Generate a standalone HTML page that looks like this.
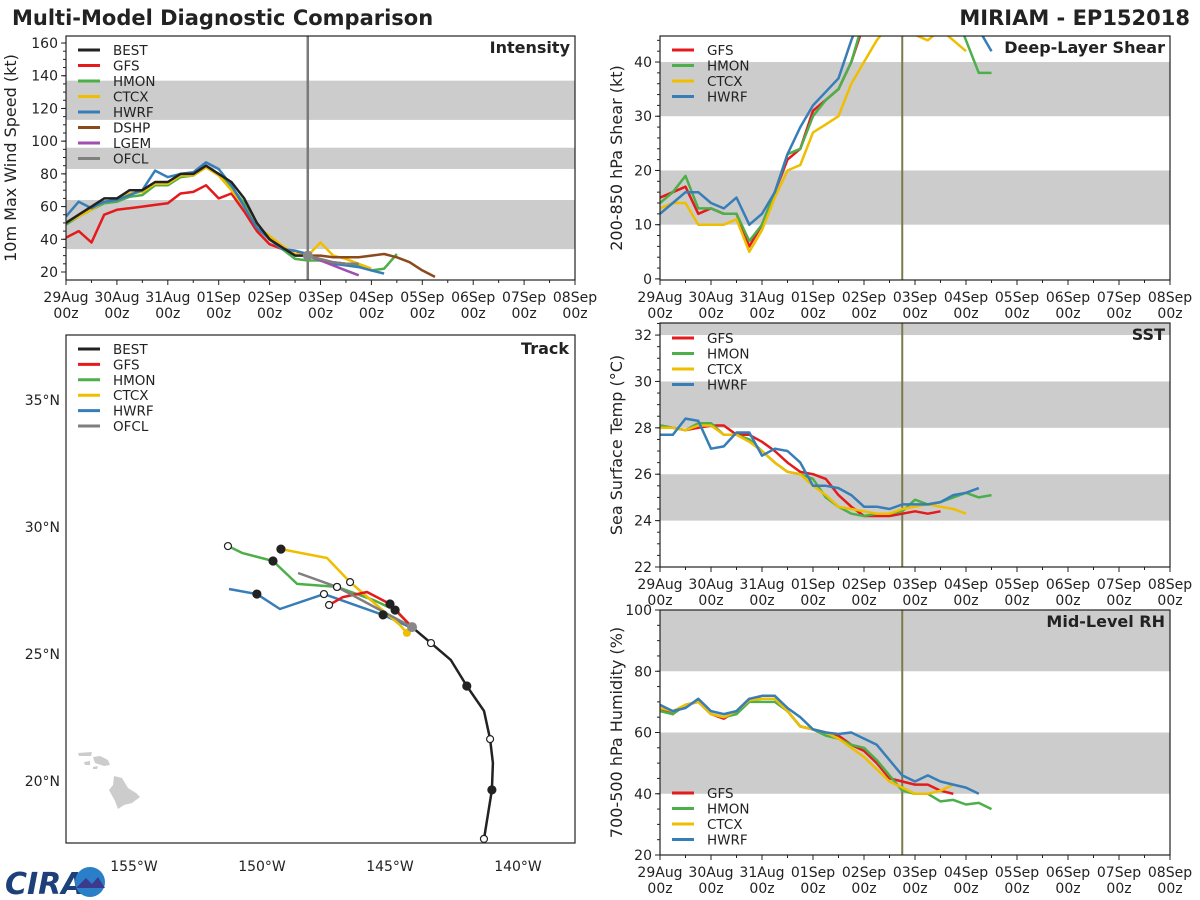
<!DOCTYPE html>
<html><head><meta charset="utf-8">
<style>
body{margin:0;background:#fff;}
svg{display:block;font-family:"DejaVu Sans","Liberation Sans",sans-serif;}
</style></head>
<body>
<svg id="fig" width="1200" height="900" viewBox="0 0 1200 900" xmlns="http://www.w3.org/2000/svg">
<text x="12" y="25" font-size="21" font-weight="bold" fill="#222">Multi-Model Diagnostic Comparison</text>
<text x="1190" y="25" font-size="21" font-weight="bold" fill="#222" text-anchor="end">MIRIAM - EP152018</text>
<g>
<text x="5" y="894" font-size="30" font-weight="bold" fill="#1d3f7a" font-style="italic">CIRA</text>
<circle cx="90" cy="882" r="15" fill="#2a7fc8"/>
<path d="M76 888 L86 878 L92 884 L98 877 L105 888 Z" fill="#3b3a8c"/>
</g>
</svg>
<script>
const NS='http://www.w3.org/2000/svg';
const svg=document.getElementById('fig');
function mk(tag,attrs,parent){const e=document.createElementNS(NS,tag);for(const k in attrs)e.setAttribute(k,attrs[k]);(parent||svg).appendChild(e);return e;}
const COL={BEST:'#222222',GFS:'#e41a1c',HMON:'#4daf4a',CTCX:'#f0be00',HWRF:'#377eb8',DSHP:'#8c4a1c',LGEM:'#9e4fb0',OFCL:'#7f7f7f'};
const dayLabels=['29Aug','30Aug','31Aug','01Sep','02Sep','03Sep','04Sep','05Sep','06Sep','07Sep','08Sep'];
const analysisDay=4.75;

// ---- Intensity data (kt, 6-hourly from start day) ----
const intBestStart=0, intBest=[50,55,60,65,65,70,70,75,75,80,80,85,80,75,65,50,40,35,30,30];
const intGfsStart=0, intGfs=[41,45,38,55,58,59,60,61,62,68,69,73,65,68,57,45,37,34,33,30,27,26,25];
const intHmonStart=0, intHmon=[49,54,58,62,63,66,67,73,73,78,79,84,80,72,62,48,40,34,28,27,27,25,25,24,21,22,31];
const intCtcxStart=0, intCtcx=[50,54,58,63,64,68,69,74,74,79,79,84,79,70,60,48,42,36,31,30,38,30,28,25,22];
const intHwrfStart=0, intHwrf=[54,63,59,63,64,67,70,82,78,80,81,87,83,73,60,47,40,34,33,31,27,25,24,23,21,19];
const intDshpStart=4.75, intDshp=[30,30,29,29,29,30,31,29,26,21,17];
const intLgemStart=4.75, intLgem=[30,27,24,21,18];
const intOfclStart=4.75, intOfcl=[30,28,26,25,25];
// ---- Shear (kt) ----
const shGfs=[15,16,17,12,13,12,12,6,10,16,22,24,31,33,35,40,47,50];
const shHmon=[14,16,19,13,13,12,12,7,10,16,23,24,30,33,35,40,48,52,52,52,52,52,52,50,44,38,38];
const shCtcx=[13,14,14,10,10,10,11,5,9,15,20,21,27,28.5,30,36,40,44,47,45,45,44,46,44,42];
const shHwrf=[12,14,16,16,14,13,15,10,12,16,23,28,32,34.5,37,44,50,52,52,52,52,50,49,50,48,46,42];
// ---- SST (C) ----
const sstGfs=[28.1,28.0,27.9,28.0,28.1,28.1,27.7,27.7,27.4,27.0,26.5,26.1,26.0,25.8,25.1,24.6,24.2,24.2,24.2,24.3,24.4,24.3,24.4];
const sstHmon=[28.1,28.0,27.9,28.2,28.2,27.7,27.7,27.5,27.0,26.5,26.1,26.0,25.8,25.0,24.6,24.3,24.2,24.3,24.3,24.4,24.9,24.7,24.8,25.0,25.2,25.0,25.1];
const sstCtcx=[28.0,28.0,27.9,28.1,28.1,27.7,27.7,27.4,27.0,26.5,26.1,26.0,25.5,25.1,24.6,24.5,24.4,24.3,24.3,24.5,24.6,24.7,24.6,24.5,24.3];
const sstHwrf=[27.7,27.7,28.4,28.3,27.1,27.2,27.8,27.8,26.8,27.1,27.0,26.5,25.5,25.5,25.4,25.1,24.6,24.6,24.5,24.7,24.7,24.7,24.8,25.1,25.2,25.4];
// ---- RH (%) ----
const rhGfs=[68,66,69,70,66,64.5,67,71,71,71,67,62,61,60,59,56,54,50,45,44,43,43,41,40];
const rhHmon=[67,66,69,70,66,65,66,70,70,70,67,62,61,59,58,56,55,51,46,41,40,40,37.5,38,36.5,37,35];
const rhCtcx=[68,67,69,70,66,65,67,70.5,71,71,67,62,61,60,58,55,52,48,44,42,40,40,41,43];
const rhHwrf=[69,67,68,71,67,66,67,71,72,72,68,65,61,60,59.5,60,58,56,51,46,44,46,44,43,42,40];
// ---- Track (lon, lat) ----
const trBest=[[-141.33,17.72],[-141.02,19.65],[-140.98,20.71],[-141.09,21.65],[-141.33,22.76],[-142.0,23.74],[-142.62,24.76],[-143.4,25.43],[-144.14,26.06]];
const trGfs=[[-144.14,26.06],[-145.0,26.97],[-145.9,27.44],[-146.84,27.24],[-147.38,26.93]];
const trHmon=[[-144.14,26.06],[-144.8,26.73],[-145.66,27.13],[-147.07,27.64],[-148.63,27.76],[-149.57,28.66],[-150.78,28.98],[-151.33,29.25]];
const trCtcx=[[-144.34,25.83],[-144.61,26.14],[-145.39,26.81],[-146.56,27.83],[-147.46,28.78],[-149.26,29.13]];
const trHwrf=[[-144.22,26.06],[-145.27,26.54],[-147.58,27.36],[-149.3,26.77],[-150.2,27.36],[-151.29,27.56]];
const trOfcl=[[-144.14,26.06],[-147.07,27.64],[-148.59,28.19]];

function timePanel(o){
  const g=mk('g',{});
  
  
  const L=o.x0,R=o.x1,T=o.y0,B=o.y1;
  const X=d=>L+(R-L)*d/10;
  const Y=v=>B-(B-T)*(v-o.vmin)/(o.vmax-o.vmin);
  const cid='clip-'+o.name;
  const cp=mk('clipPath',{id:cid},g);mk('rect',{x:L,y:T,width:R-L,height:B-T},cp);
  o.bands.forEach(b=>{const r=mk('rect',{x:L,y:Y(Math.min(b[1],o.vmax)),width:R-L,height:Y(b[0])-Y(Math.min(b[1],o.vmax)),fill:'#cccccc'},g);
    });
  const vl=mk('line',{x1:X(analysisDay),x2:X(analysisDay),y1:T,y2:B,stroke:o.vcol,'stroke-width':o.vw},g);
  
  const sg=mk('g',{'clip-path':'url(#'+cid+')'},g);
  o.series.forEach(s=>{
    const pts=s.v.map((v,i)=>X(s.s+i*0.25).toFixed(1)+','+Y(v).toFixed(1)).join(' ');
    const p=mk('polyline',{points:pts,fill:'none',stroke:COL[s.k],'stroke-width':2.5,'stroke-linejoin':'round'},sg);
    
  });
  if(o.dot){const c=mk('circle',{cx:X(analysisDay),cy:Y(o.dot),r:5,fill:'#888'},g);
    }
  mk('rect',{x:L,y:T,width:R-L,height:B-T,fill:'none',stroke:'#222','stroke-width':1.2},g);
  for(let d=0;d<=10;d++){
    mk('line',{x1:X(d),x2:X(d),y1:B,y2:B+5,stroke:'#222'},g);
    if(d<10)mk('line',{x1:X(d+0.5),x2:X(d+0.5),y1:B,y2:B+3,stroke:'#222'},g);
    const t=mk('text',{x:X(d),y:B+22,'font-size':14,'text-anchor':'middle',fill:'#222'},g);t.textContent=dayLabels[d];
    
    const t2=mk('text',{x:X(d),y:B+38,'font-size':14,'text-anchor':'middle',fill:'#222'},g);t2.textContent='00z';
    
  }
  o.ticks.forEach(v=>{
    mk('line',{x1:L-5,x2:L,y1:Y(v),y2:Y(v),stroke:'#222'},g);
    const t=mk('text',{x:L-8,y:Y(v)+5,'font-size':14,'text-anchor':'end',fill:'#222'},g);t.textContent=v;
    
  });
  o.minor.forEach(v=>{if(v>o.vmin&&v<o.vmax)mk('line',{x1:L-3,x2:L,y1:Y(v),y2:Y(v),stroke:'#222'},g);});
  const yt=mk('text',{x:0,y:0,'font-size':16,'text-anchor':'middle',fill:'#222',transform:`translate(${o.ylx},${(T+B)/2}) rotate(-90)`},g);
  yt.textContent=o.ylabel;
  const pt=mk('text',{x:R-5,y:T+17,'font-size':16,'font-weight':'bold','text-anchor':'end',fill:'#222'},g);
  pt.textContent=o.title;
  legend(g,o.legend,L+12,o.legY,o.legStep);
}
function legend(g,keys,x,y,step){
  keys.forEach((k,i)=>{
    const lg=mk('g',{},g);
    
    mk('line',{x1:x,x2:x+22,y1:y+i*step,y2:y+i*step,stroke:COL[k],'stroke-width':3},lg);
    const t=mk('text',{x:x+35,y:y+i*step+5,'font-size':13.5,fill:'#222'},lg);t.textContent=k;
  });
}
function rng(a,b,s){const r=[];for(let v=a;v<=b+1e-9;v+=s)r.push(+v.toFixed(2));return r;}

timePanel({name:'intensity-panel',x0:66,x1:575,y0:36,y1:280,vmin:15.1,vmax:164.3,bands:[[34,64],[83,96],[113,137]],
  vcol:'#7a7a7a',vw:2.5,ticks:rng(20,160,20),minor:rng(10,170,5),ylabel:'10m Max Wind Speed (kt)',ylx:16,title:'Intensity',
  legend:['BEST','GFS','HMON','CTCX','HWRF','DSHP','LGEM','OFCL'],legY:50,legStep:15.5,dot:30,
  series:[{k:'GFS',s:intGfsStart,v:intGfs},{k:'HMON',s:intHmonStart,v:intHmon},{k:'CTCX',s:intCtcxStart,v:intCtcx},{k:'HWRF',s:intHwrfStart,v:intHwrf},
    {k:'DSHP',s:intDshpStart,v:intDshp},{k:'LGEM',s:intLgemStart,v:intLgem},{k:'OFCL',s:intOfclStart,v:intOfcl},{k:'BEST',s:intBestStart,v:intBest}]});
timePanel({name:'shear-panel',x0:660,x1:1170,y0:36,y1:280,vmin:-0.2,vmax:44.8,bands:[[10,20],[30,40]],
  vcol:'#7d7a4a',vw:2,ticks:rng(0,40,10),minor:rng(0,44,2),ylabel:'200-850 hPa Shear (kt)',ylx:622,title:'Deep-Layer Shear',
  legend:['GFS','HMON','CTCX','HWRF'],legY:50,legStep:15.5,
  series:[{k:'GFS',s:0,v:shGfs},{k:'HMON',s:0,v:shHmon},{k:'CTCX',s:0,v:shCtcx},{k:'HWRF',s:0,v:shHwrf}]});
timePanel({name:'sst-panel',x0:660,x1:1170,y0:323,y1:567,vmin:22,vmax:32.52,bands:[[24,26],[28,30],[32,33]],
  vcol:'#7d7a4a',vw:2,ticks:rng(22,32,2),minor:rng(22,32.5,0.5),ylabel:'Sea Surface Temp (°C)',ylx:622,title:'SST',
  legend:['GFS','HMON','CTCX','HWRF'],legY:338,legStep:15.5,
  series:[{k:'GFS',s:0,v:sstGfs},{k:'HMON',s:0,v:sstHmon},{k:'CTCX',s:0,v:sstCtcx},{k:'HWRF',s:0,v:sstHwrf}]});
timePanel({name:'rh-panel',x0:660,x1:1170,y0:610,y1:855,vmin:20,vmax:100,bands:[[40,60],[80,100]],
  vcol:'#7d7a4a',vw:2,ticks:rng(20,100,20),minor:rng(20,100,5),ylabel:'700-500 hPa Humidity (%)',ylx:622,title:'Mid-Level RH',
  legend:['GFS','HMON','CTCX','HWRF'],legY:793,legStep:15.5,
  series:[{k:'GFS',s:0,v:rhGfs},{k:'HMON',s:0,v:rhHmon},{k:'CTCX',s:0,v:rhCtcx},{k:'HWRF',s:0,v:rhHwrf}]});

// ---- Track panel ----
(function(){
  const g=mk('g',{});
  const L=66,R=575,T=335,B=843;
  const X=lon=>134+(lon+155)*25.6, Y=lat=>400+(35-lat)*25.4;
  const isl=[[[78,753],[92,752],[91,756],[79,756]],[[84,762],[90,761],[90,765],[85,765]],[[93,757],[100,756],[108,760],[110,765],[104,766],[95,763]],[[93,767],[98,766],[97,769],[93,769]],
    [[114,776],[122,778],[128,788],[136,793],[140,797],[132,803],[124,805],[118,809],[115,801],[109,790],[113,785]]];
  isl.forEach(p=>{const e=mk('polygon',{points:p.map(q=>q.join(',')).join(' '),fill:'#cccccc'},g);
    });
  const series=[['HWRF',trHwrf],['HMON',trHmon],['CTCX',trCtcx],['GFS',trGfs],['OFCL',trOfcl],['BEST',trBest]];
  series.forEach(([k,d])=>{
    const p=mk('polyline',{points:d.map(q=>X(q[0]).toFixed(1)+','+Y(q[1]).toFixed(1)).join(' '),fill:'none',stroke:COL[k],'stroke-width':2.5,'stroke-linejoin':'round'},g);
    
  });
  const mkPts=[[trBest,[0,1,3,5,7],[0,3,7]],[trGfs,[1,4],[4]],[trHmon,[1,3,5,7],[3,7]],[trCtcx,[3,5],[3]],[trHwrf,[1,2,4],[2]],[trOfcl,[1],[1]]];
  mkPts.forEach(([d,idx,open])=>idx.forEach(i=>{const c=mk('circle',{cx:X(d[i][0]),cy:Y(d[i][1]),r:open.includes(i)?3.5:4,fill:open.includes(i)?'#fff':'#222',stroke:'#222','stroke-width':1.2},g);
    }));
  const s1=mk('circle',{cx:X(trCtcx[0][0]),cy:Y(trCtcx[0][1]),r:4,fill:COL.CTCX},g);
  const s2=mk('circle',{cx:X(trOfcl[0][0]),cy:Y(trOfcl[0][1]),r:5,fill:'#888'},g);
  mk('rect',{x:L,y:T,width:R-L,height:B-T,fill:'none',stroke:'#222','stroke-width':1.2},g);
  [-155,-150,-145,-140].forEach(lon=>{const t=mk('text',{x:X(lon),y:871,'font-size':14,'text-anchor':'middle',fill:'#222'},g);t.textContent=(-lon)+'°W';
    });
  [20,25,30,35].forEach(lat=>{const t=mk('text',{x:60,y:Y(lat)+5,'font-size':14,'text-anchor':'end',fill:'#222'},g);t.textContent=lat+'°N';
    });
  const pt=mk('text',{x:R-6,y:T+19,'font-size':16,'font-weight':'bold','text-anchor':'end',fill:'#222'},g);pt.textContent='Track';
  
  legend(g,['BEST','GFS','HMON','CTCX','HWRF','OFCL'],78,349,15.4);
})();
</script>
</body></html>
